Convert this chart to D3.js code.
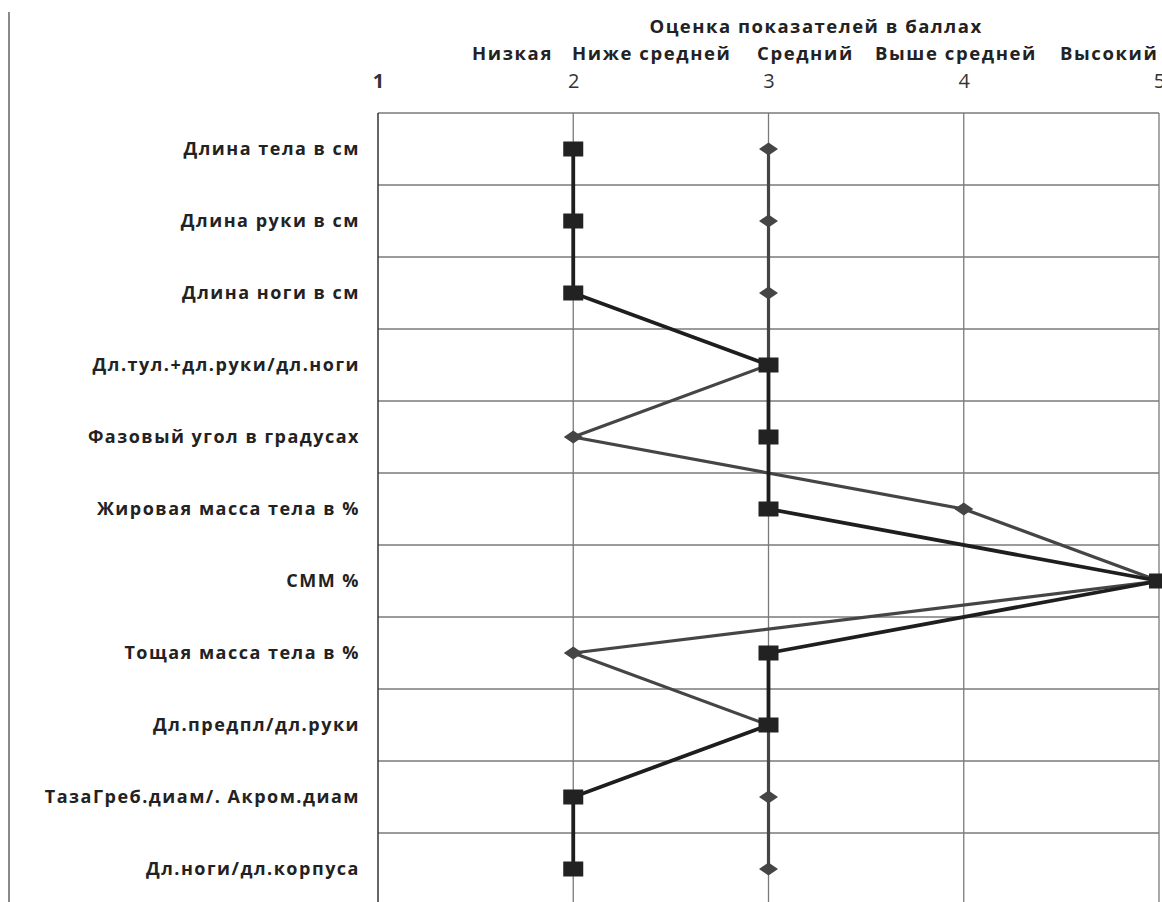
<!DOCTYPE html>
<html><head><meta charset="utf-8">
<script src="https://cdn.jsdelivr.net/npm/d3@7"></script>
<style>body{margin:0;background:#fff}svg{display:block}</style>
</head><body>
<svg id="c" width="1162" height="902"></svg>
<script>
const categories = ["Длина тела в см","Длина руки в см","Длина ноги в см","Дл.тул.+дл.руки/дл.ноги","Фазовый угол в градусах","Жировая масса тела в %","СММ %","Тощая масса тела в %","Дл.предпл/дл.руки","ТазаГреб.диам/. Акром.диам","Дл.ноги/дл.корпуса"];
const seriesSquare = [2,2,2,3,3,3,5,3,3,2,2];
const seriesDiamond = [3,3,3,3,2,4,5,2,3,3,3];
const tickValues = [1,2,3,4,5];
const levelLabels = ["Низкая","Ниже средней","Средний","Выше средней","Высокий"];
const levelX = [472,572,757,875,1060];
const axisTitle = "Оценка показателей в баллах";

const svg = d3.select("#c");
const font = "'Open Sans', sans-serif";
const x = d3.scaleLinear().domain([1,5]).range([378,1159]);
const y = d3.scaleBand().domain(categories).range([113,905]).padding(0);

// outer left border
svg.append("line").attr("x1",9).attr("x2",9).attr("y1",12).attr("y2",902).attr("stroke","#8a8a8a").attr("stroke-width",2);

// horizontal gridlines at band boundaries
const bounds = categories.map(c=>y(c)).concat([y.range()[1]]);
svg.append("g").selectAll("line").data(bounds).join("line")
  .attr("x1",x(1)).attr("x2",x(5)).attr("y1",d=>d).attr("y2",d=>d)
  .attr("stroke","#7a7a7a").attr("stroke-width",1.3);
// vertical gridlines
svg.append("g").selectAll("line").data(tickValues.slice(1)).join("line")
  .attr("x1",d=>x(d)).attr("x2",d=>x(d)).attr("y1",113).attr("y2",905)
  .attr("stroke","#7a7a7a").attr("stroke-width",1.3);
// left axis line
svg.append("line").attr("x1",x(1)).attr("x2",x(1)).attr("y1",113).attr("y2",905).attr("stroke","#333").attr("stroke-width",1.5);

// top axis
const ax = svg.append("g").attr("transform","translate(0,88)")
  .call(d3.axisTop(x).tickValues(tickValues).tickSize(0).tickPadding(0).tickFormat(d3.format("d")));
ax.select(".domain").remove();
ax.selectAll("text").attr("font-family",font).attr("font-size",20).attr("fill","#333")
  .attr("font-weight",d=>d===1?"bold":"normal").attr("dy","0");

// title and level labels
svg.append("text").attr("x",816).attr("y",33).attr("text-anchor","middle")
  .attr("font-family",font).attr("font-weight","bold").attr("font-size",18.5).attr("letter-spacing",1.5)
  .attr("fill","#222").text(axisTitle);
svg.append("g").selectAll("text").data(levelLabels).join("text")
  .attr("x",(d,i)=>levelX[i]).attr("y",60).attr("font-family",font).attr("font-weight","bold")
  .attr("font-size",18.5).attr("letter-spacing",1.6).attr("fill","#222").text(d=>d);

// category labels
svg.append("g").selectAll("text").data(categories).join("text")
  .attr("x",360).attr("y",d=>y(d)+y.bandwidth()/2).attr("dy","0.35em").attr("text-anchor","end")
  .attr("font-family",font).attr("font-weight","bold").attr("font-size",18).attr("letter-spacing",1.5)
  .attr("fill","#222").text(d=>d);

const cy = c => y(c)+y.bandwidth()/2;
const line = d3.line().x(d=>x(d.v)).y(d=>cy(d.c));
const dDiamond = seriesDiamond.map((v,i)=>({c:categories[i],v}));
const dSquare = seriesSquare.map((v,i)=>({c:categories[i],v}));

svg.append("path").datum(dDiamond).attr("d",line).attr("fill","none").attr("stroke","#454545").attr("stroke-width",3.2);
svg.append("path").datum(dSquare).attr("d",line).attr("fill","none").attr("stroke","#1e1e1e").attr("stroke-width",3.8);

svg.append("g").selectAll("path").data(dDiamond).join("path")
  .attr("transform",d=>`translate(${x(d.v)},${cy(d.c)})`)
  .attr("d","M0,-6.5L9.5,0L0,6.5L-9.5,0Z").attr("fill","#454545");
svg.append("g").selectAll("rect").data(dSquare).join("rect")
  .attr("x",d=>x(d.v)-10).attr("y",d=>cy(d.c)-7.5).attr("width",20).attr("height",15).attr("fill","#222");
</script>
</body></html>
